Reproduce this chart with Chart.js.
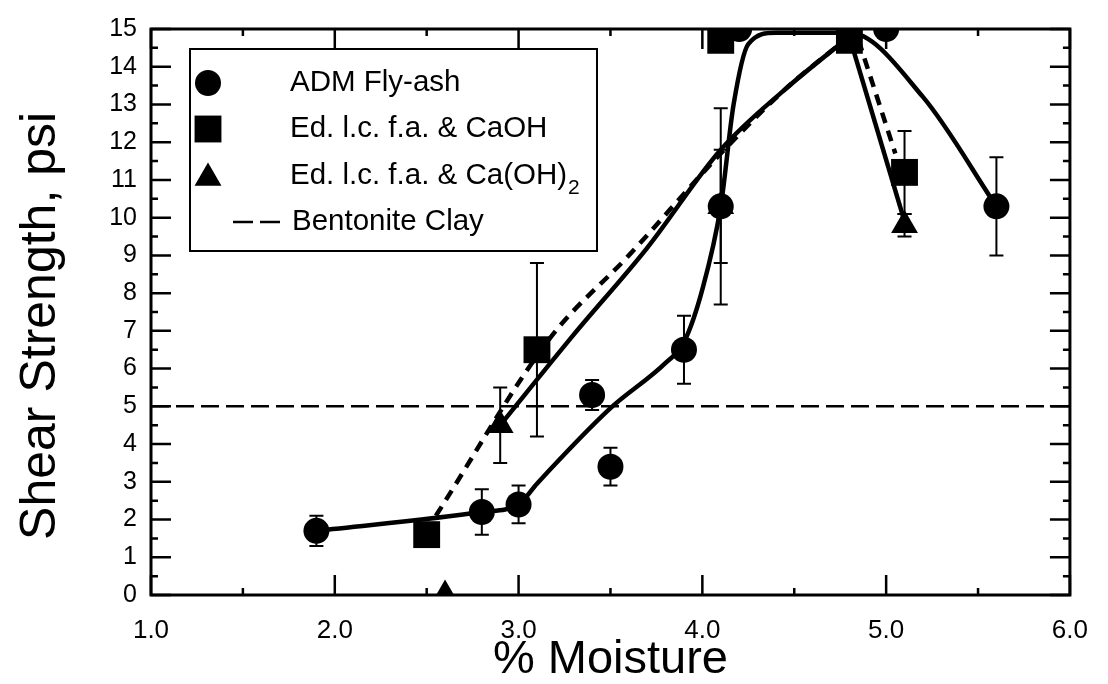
<!DOCTYPE html>
<html lang="en">
<head>
<meta charset="UTF-8">
<title>Shear Strength vs % Moisture</title>
<style>
  html, body { margin: 0; padding: 0; background: #fff; }
  #wrap { width: 1108px; height: 684px; }
</style>
</head>
<body>
<script src="https://cdn.jsdelivr.net/npm/chart.js@4.4.0/dist/chart.umd.min.js"></script>
<div id="wrap"><canvas id="chart"></canvas></div>
<script>
// measured points (x = % moisture, y = shear strength psi), error bars lo/hi
const admX  = [1.9, 2.8, 3.0, 3.4, 3.5, 3.9, 4.1, 4.2, 5.0, 5.6];
const admY  = [1.7, 2.2, 2.4, 5.3, 3.4, 6.5, 10.3, 15.0, 15.0, 10.3];
const admLo = [1.3, 1.6, 1.9, 4.9, 2.9, 5.6, 7.7, null, null, 9.0];
const admHi = [2.1, 2.8, 2.9, 5.7, 3.9, 7.4, 12.9, null, null, 11.6];

const caohX  = [2.5, 3.1, 4.1, 4.8, 5.1];
const caohY  = [1.6, 6.5, 14.7, 14.7, 11.2];
const caohLo = [null, 4.2, null, null, 10.1];
const caohHi = [null, 8.8, null, null, 12.3];

const ca2X  = [2.6, 2.9, 4.1, 4.8, 5.1];
const ca2Y  = [0.0, 4.5, 10.3, 14.7, 9.8];
const ca2Lo = [null, 3.5, 8.8, null, 9.5];
const ca2Hi = [null, 5.5, 11.8, null, 10.1];

// bentonite clay reference level
const clayX = [1.0, 6.0];
const clayY = [5.0, 5.0];

// hand-drawn fit curves
const admFitX = [1.9, 2.8, 3.0, 3.1, 3.5, 3.8, 3.9, 4.0, 4.1, 4.17, 4.25, 4.4, 4.8, 5.2, 5.6];
const admFitY = [1.7, 2.2, 2.4, 2.95, 4.95, 6.15, 6.7, 8.1, 10.3, 13.0, 14.6, 14.9, 14.9, 13.2, 10.3];

const ca2FitX = [2.9, 3.3, 3.7, 4.1, 4.45, 4.8];
const ca2FitY = [4.5, 6.9, 9.2, 11.8, 13.4, 14.8];
const ca2DropX = [4.8, 5.1];
const ca2DropY = [14.8, 9.9];

const caohFitX = [2.55, 3.17, 3.6, 4.1, 4.45, 4.8];
const caohFitY = [2.1, 6.8, 9.0, 11.7, 13.4, 14.8];
const caohDropX = [4.85, 5.05];
const caohDropY = [14.7, 11.7];

const xMajor = [1, 2, 3, 4, 5, 6];
const xMinor = [1.5, 2.5, 3.5, 4.5, 5.5];
const yMajor = [0, 1, 2, 3, 4, 5, 6, 7, 8, 9, 10, 11, 12, 13, 14, 15];
const yMinor = [0.5, 1.5, 2.5, 3.5, 4.5, 5.5, 6.5, 7.5, 8.5, 9.5, 10.5, 11.5, 12.5, 13.5, 14.5];

const FONT = "'Liberation Sans', Arial, Helvetica, sans-serif";

function pts(xs, ys) {
  return xs.map((x, i) => ({ x: x, y: ys[i] }));
}

function fitLine(xs, ys, extra) {
  return Object.assign({
    data: pts(xs, ys),
    showLine: true,
    borderColor: '#000',
    borderWidth: 4.5,
    pointRadius: 0,
    pointHoverRadius: 0,
    cubicInterpolationMode: 'monotone',
    fill: false,
    clip: 0
  }, extra || {});
}

function marks(xs, ys, style, r) {
  return {
    data: pts(xs, ys),
    showLine: false,
    pointStyle: style,
    pointRadius: r,
    pointHoverRadius: r,
    backgroundColor: '#000',
    borderColor: '#000',
    borderWidth: 0,
    clip: 0
  };
}

// error bars, drawn through the chart scales
const errorBars = {
  id: 'errorBars',
  afterDatasetsDraw(chart) {
    const { ctx, chartArea: a, scales: { x, y } } = chart;
    const sets = [[admX, admLo, admHi], [caohX, caohLo, caohHi], [ca2X, ca2Lo, ca2Hi]];
    ctx.save();
    ctx.beginPath();
    ctx.rect(a.left, a.top, a.right - a.left, a.bottom - a.top);
    ctx.clip();
    ctx.strokeStyle = '#000';
    ctx.lineWidth = 2;
    sets.forEach(([xs, lo, hi]) => {
      xs.forEach((xv, i) => {
        if (lo[i] == null) return;
        const px = x.getPixelForValue(xv);
        const p1 = y.getPixelForValue(lo[i]);
        const p2 = y.getPixelForValue(hi[i]);
        ctx.beginPath();
        ctx.moveTo(px, p1); ctx.lineTo(px, p2);
        ctx.moveTo(px - 7, p1); ctx.lineTo(px + 7, p1);
        ctx.moveTo(px - 7, p2); ctx.lineTo(px + 7, p2);
        ctx.stroke();
      });
    });
    ctx.restore();
  }
};

// boxed frame with inward ticks on all four sides
const frame = {
  id: 'frame',
  afterDatasetsDraw(chart) {
    const { ctx, chartArea: a, scales: { x, y } } = chart;
    ctx.save();
    ctx.strokeStyle = '#000';
    ctx.lineWidth = 2.5;
    ctx.beginPath();
    xMajor.forEach(v => {
      const px = x.getPixelForValue(v);
      ctx.moveTo(px, a.bottom); ctx.lineTo(px, a.bottom - 20);
      ctx.moveTo(px, a.top); ctx.lineTo(px, a.top + 20);
    });
    xMinor.forEach(v => {
      const px = x.getPixelForValue(v);
      ctx.moveTo(px, a.bottom); ctx.lineTo(px, a.bottom - 7);
      ctx.moveTo(px, a.top); ctx.lineTo(px, a.top + 7);
    });
    yMajor.forEach(v => {
      const py = y.getPixelForValue(v);
      ctx.moveTo(a.left, py); ctx.lineTo(a.left + 20, py);
      ctx.moveTo(a.right, py); ctx.lineTo(a.right - 20, py);
    });
    yMinor.forEach(v => {
      const py = y.getPixelForValue(v);
      ctx.moveTo(a.left, py); ctx.lineTo(a.left + 7, py);
      ctx.moveTo(a.right, py); ctx.lineTo(a.right - 7, py);
    });
    ctx.stroke();
    ctx.lineWidth = 3;
    ctx.strokeRect(a.left, a.top, a.right - a.left, a.bottom - a.top);
    ctx.restore();
  }
};

// boxed legend in the upper left of the plot
const boxLegend = {
  id: 'boxLegend',
  afterDraw(chart) {
    const ctx = chart.ctx;
    const bx = 190, by = 49, bw = 407, bh = 202;
    ctx.save();
    ctx.fillStyle = '#fff';
    ctx.fillRect(bx, by, bw, bh);
    ctx.strokeStyle = '#000';
    ctx.lineWidth = 2;
    ctx.strokeRect(bx, by, bw, bh);
    ctx.fillStyle = '#000';
    const mx = 208, tx = 290;
    const rows = [83, 129, 176, 222];
    Chart.helpers.drawPoint(ctx, { pointStyle: 'circle', radius: 13, borderWidth: 0 }, mx, rows[0]);
    Chart.helpers.drawPoint(ctx, { pointStyle: 'rect', radius: 19, borderWidth: 0 }, mx, rows[1]);
    Chart.helpers.drawPoint(ctx, { pointStyle: 'triangle', radius: 15.5, borderWidth: 0 }, mx, rows[2] + 2);
    ctx.lineWidth = 2.5;
    ctx.beginPath();
    ctx.moveTo(233, rows[3]); ctx.lineTo(253, rows[3]);
    ctx.moveTo(260, rows[3]); ctx.lineTo(280, rows[3]);
    ctx.stroke();
    ctx.font = '29.5px ' + FONT;
    ctx.textBaseline = 'middle';
    ctx.textAlign = 'left';
    ctx.fillText('ADM Fly-ash', tx, rows[0]);
    ctx.fillText('Ed. l.c. f.a. & CaOH', tx, rows[1]);
    const t3 = 'Ed. l.c. f.a. & Ca(OH)';
    ctx.fillText(t3, tx, rows[2]);
    const w3 = ctx.measureText(t3).width;
    ctx.font = '21px ' + FONT;
    ctx.fillText('2', tx + w3 + 1, rows[2] + 12);
    ctx.font = '29.5px ' + FONT;
    ctx.fillText('Bentonite Clay', tx + 2, rows[3]);
    ctx.restore();
  }
};

new Chart(document.getElementById('chart'), {
  type: 'scatter',
  data: {
    datasets: [
      marks(admX, admY, 'circle', 13),
      marks(caohX, caohY, 'rect', 19),
      marks(ca2X, ca2Y, 'triangle', 15.5),
      fitLine(clayX, clayY, { borderWidth: 2.5, borderDash: [18, 7], cubicInterpolationMode: 'default', tension: 0 }),
      fitLine(admFitX, admFitY),
      fitLine(ca2FitX, ca2FitY),
      fitLine(ca2DropX, ca2DropY, { tension: 0, cubicInterpolationMode: 'default' }),
      fitLine(caohFitX, caohFitY, { borderDash: [11, 8] }),
      fitLine(caohDropX, caohDropY, { borderDash: [11, 8], tension: 0, cubicInterpolationMode: 'default' })
    ]
  },
  options: {
    responsive: true,
    maintainAspectRatio: false,
    animation: false,
    events: [],
    layout: { padding: { top: 20, right: 24, left: 0, bottom: 0 } },
    plugins: {
      legend: { display: false },
      tooltip: { enabled: false }
    },
    scales: {
      x: {
        type: 'linear',
        min: 1, max: 6,
        grid: { display: false, drawTicks: false },
        border: { display: false },
        ticks: {
          stepSize: 1,
          padding: 20,
          color: '#000',
          font: { family: FONT, size: 26 },
          callback: v => v.toFixed(1)
        },
        title: {
          display: true,
          text: '% Moisture',
          color: '#000',
          font: { family: FONT, size: 47, lineHeight: 1 },
          padding: { top: 0, bottom: 0 }
        },
        afterFit: s => { s.height = 89; }
      },
      y: {
        type: 'linear',
        min: 0, max: 15,
        grid: { display: false, drawTicks: false },
        border: { display: false },
        ticks: {
          stepSize: 1,
          padding: 14,
          color: '#000',
          font: { family: FONT, size: 25 }
        },
        title: {
          display: true,
          text: 'Shear Strength, psi\u00a0\u00a0',
          color: '#000',
          font: { family: FONT, size: 50, lineHeight: 1 },
          padding: { top: 16, bottom: 0 }
        },
        afterFit: s => { s.width = 151; }
      }
    }
  },
  plugins: [errorBars, frame, boxLegend]
});
</script>
</body>
</html>
